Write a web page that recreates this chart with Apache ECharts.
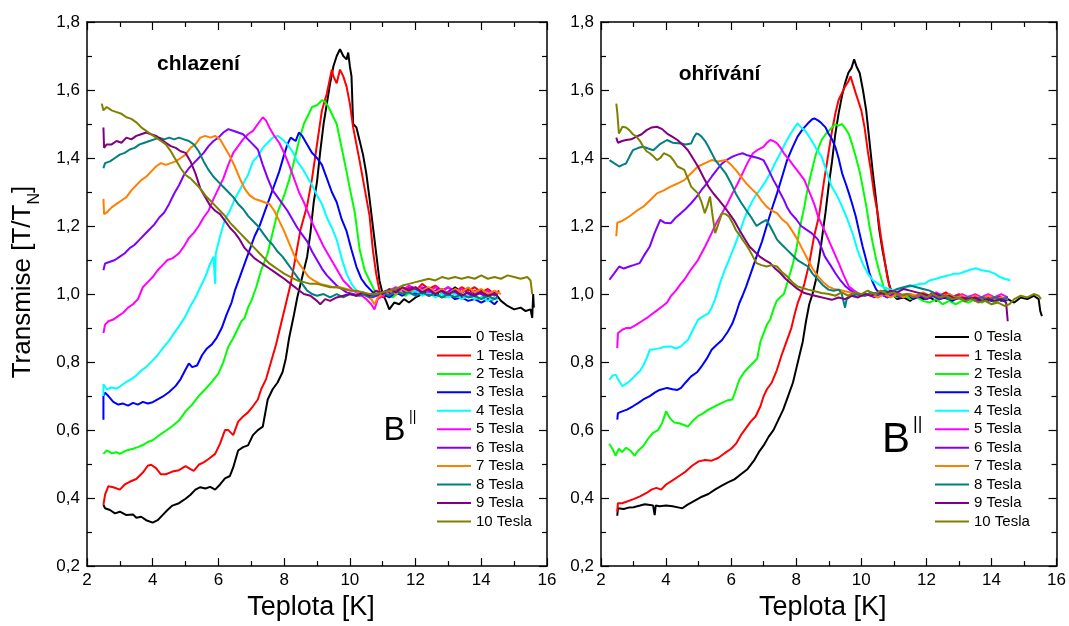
<!DOCTYPE html>
<html>
<head>
<meta charset="utf-8">
<script src="https://cdn.jsdelivr.net/npm/echarts@6/dist/echarts.min.js"></script>
<style>
html,body{margin:0;padding:0;background:#fff;}
#chart{width:1069px;height:626px;}
</style>
</head>
<body>
<div id="chart"></div>
<script>
// ---------- DATA ----------
const seriesNames = ['0 Tesla','1 Tesla','2 Tesla','3 Tesla','4 Tesla','5 Tesla','6 Tesla','7 Tesla','8 Tesla','9 Tesla','10 Tesla'];
const panelTitles = ['chlazení','ohřívání'];
const xTicks = [2,4,6,8,10,12,14,16];
const yTicks = [0.2,0.4,0.6,0.8,1.0,1.2,1.4,1.6,1.8];

// Cooling (chlazení), [T, T/TN]
const cool0 = [[2.5,0.38],[2.55,0.37],[2.7,0.365],[2.85,0.355],[3.0,0.36],[3.2,0.35],[3.4,0.352],[3.5,0.342],[3.65,0.345],[3.8,0.335],[4.0,0.328],[4.15,0.335],[4.3,0.35],[4.45,0.365],[4.6,0.378],[4.8,0.385],[5.0,0.398],[5.15,0.41],[5.3,0.425],[5.45,0.432],[5.6,0.428],[5.75,0.433],[5.9,0.425],[6.05,0.44],[6.2,0.458],[6.35,0.465],[6.45,0.49],[6.6,0.54],[6.75,0.55],[6.9,0.555],[7.05,0.585],[7.2,0.6],[7.35,0.61],[7.5,0.69],[7.65,0.72],[7.8,0.74],[7.95,0.77],[8.05,0.81],[8.15,0.87],[8.3,0.94],[8.4,0.99],[8.5,1.03],[8.6,1.07],[8.7,1.11],[8.8,1.18],[8.9,1.27],[9.0,1.33],[9.1,1.42],[9.2,1.5],[9.3,1.56],[9.4,1.62],[9.5,1.67],[9.6,1.7],[9.7,1.72],[9.8,1.7],[9.9,1.69],[9.95,1.71],[10.0,1.67],[10.05,1.64],[10.1,1.5],[10.2,1.49],[10.3,1.45],[10.4,1.41],[10.5,1.355],[10.6,1.28],[10.7,1.2],[10.8,1.12],[10.9,1.04],[11.0,1.0],[11.1,0.98],[11.2,0.955],[11.35,0.975],[11.5,0.97],[11.65,0.985],[11.8,0.975],[12.0,0.99],[12.2,1.0],[12.4,1.01],[12.6,0.995],[12.8,1.015],[13.0,1.0],[13.2,1.02],[13.4,1.005],[13.6,1.015],[13.8,1.0],[14.0,1.01],[14.2,0.995],[14.4,1.005],[14.6,0.98],[14.8,0.965],[15.0,0.955],[15.2,0.96],[15.35,0.95],[15.5,0.955],[15.55,0.93],[15.58,1.0],[15.6,0.96]];
const cool1 = [[2.5,0.38],[2.55,0.41],[2.65,0.435],[2.8,0.432],[3.0,0.425],[3.15,0.44],[3.3,0.448],[3.5,0.456],[3.7,0.475],[3.85,0.495],[3.95,0.498],[4.1,0.488],[4.25,0.47],[4.4,0.47],[4.6,0.478],[4.8,0.482],[5.0,0.494],[5.15,0.485],[5.25,0.48],[5.4,0.498],[5.55,0.505],[5.7,0.515],[5.9,0.53],[6.05,0.56],[6.2,0.6],[6.3,0.6],[6.45,0.585],[6.6,0.625],[6.75,0.64],[6.9,0.652],[7.05,0.67],[7.2,0.69],[7.3,0.72],[7.45,0.75],[7.6,0.8],[7.75,0.85],[7.85,0.89],[7.95,0.93],[8.05,0.97],[8.2,1.03],[8.35,1.11],[8.5,1.19],[8.7,1.26],[8.85,1.34],[9.0,1.44],[9.15,1.54],[9.3,1.59],[9.45,1.66],[9.5,1.64],[9.6,1.62],[9.7,1.66],[9.8,1.64],[9.9,1.61],[10.0,1.56],[10.1,1.49],[10.2,1.44],[10.3,1.39],[10.45,1.31],[10.6,1.23],[10.7,1.13],[10.8,1.06],[10.9,1.01],[11.0,0.99],[11.2,1.0],[11.4,1.015],[11.6,1.0],[11.8,1.02],[12.0,1.01],[12.2,1.03],[12.4,1.015],[12.6,1.025],[12.8,1.01],[13.0,1.02],[13.2,1.005],[13.4,1.02],[13.6,1.01],[13.8,1.02],[14.0,1.005],[14.2,1.015],[14.4,1.0],[14.55,1.01]];
const cool2 = [[2.5,0.53],[2.6,0.54],[2.75,0.532],[2.9,0.535],[3.0,0.53],[3.2,0.54],[3.4,0.545],[3.55,0.55],[3.7,0.556],[3.85,0.565],[4.0,0.57],[4.2,0.585],[4.4,0.598],[4.6,0.612],[4.8,0.628],[5.0,0.655],[5.2,0.675],[5.4,0.7],[5.6,0.72],[5.8,0.742],[6.0,0.766],[6.15,0.8],[6.3,0.845],[6.45,0.87],[6.6,0.9],[6.7,0.92],[6.8,0.93],[6.9,0.96],[7.0,0.98],[7.15,1.02],[7.3,1.07],[7.5,1.12],[7.65,1.18],[7.8,1.24],[8.0,1.29],[8.15,1.335],[8.3,1.39],[8.45,1.45],[8.6,1.5],[8.7,1.52],[8.85,1.55],[9.0,1.555],[9.15,1.57],[9.25,1.565],[9.35,1.55],[9.5,1.52],[9.6,1.5],[9.75,1.43],[9.9,1.36],[10.0,1.31],[10.15,1.24],[10.3,1.13],[10.45,1.07],[10.6,1.04],[10.75,1.01],[10.9,0.995],[11.1,1.0],[11.3,0.99],[11.5,1.005],[11.7,0.995],[11.9,1.01],[12.1,1.0],[12.3,1.015],[12.5,1.0],[12.7,1.01],[12.9,0.99],[13.1,1.005],[13.3,0.995],[13.5,0.99],[13.7,1.0],[13.9,0.985],[14.1,0.995],[14.3,0.98],[14.5,0.99]];
const cool3 = [[2.5,0.63],[2.5,0.7],[2.55,0.71],[2.65,0.7],[2.8,0.683],[2.95,0.675],[3.1,0.678],[3.25,0.672],[3.4,0.68],[3.55,0.675],[3.7,0.683],[3.85,0.678],[4.0,0.682],[4.15,0.69],[4.3,0.698],[4.5,0.712],[4.7,0.73],[4.85,0.75],[5.0,0.778],[5.1,0.796],[5.2,0.785],[5.35,0.79],[5.5,0.82],[5.65,0.84],[5.8,0.852],[5.95,0.872],[6.1,0.9],[6.25,0.94],[6.4,0.975],[6.5,1.01],[6.65,1.05],[6.8,1.09],[6.95,1.13],[7.1,1.17],[7.25,1.2],[7.4,1.24],[7.55,1.28],[7.7,1.32],[7.85,1.36],[8.0,1.41],[8.1,1.44],[8.2,1.46],[8.35,1.45],[8.45,1.475],[8.55,1.465],[8.7,1.44],[8.85,1.415],[9.0,1.4],[9.15,1.38],[9.3,1.34],[9.45,1.3],[9.6,1.27],[9.75,1.22],[9.9,1.185],[10.05,1.13],[10.2,1.08],[10.35,1.045],[10.5,1.025],[10.65,1.01],[10.8,0.995],[11.0,1.0],[11.2,0.99],[11.4,1.005],[11.6,0.995],[11.8,1.01],[12.0,1.0],[12.2,1.01],[12.4,0.995],[12.6,1.005],[12.8,0.99],[13.0,1.0],[13.2,0.985],[13.4,0.99],[13.6,0.98],[13.8,0.985],[14.0,0.975],[14.2,0.985],[14.4,0.97],[14.5,0.98]];
const cool4 = [[2.5,0.7],[2.5,0.735],[2.6,0.72],[2.75,0.725],[2.9,0.722],[3.0,0.728],[3.2,0.742],[3.35,0.75],[3.5,0.76],[3.65,0.775],[3.8,0.785],[4.0,0.805],[4.15,0.82],[4.3,0.84],[4.5,0.863],[4.65,0.885],[4.8,0.905],[5.0,0.935],[5.15,0.965],[5.3,0.99],[5.45,1.02],[5.6,1.05],[5.75,1.09],[5.85,1.11],[5.9,1.03],[5.92,1.12],[6.05,1.17],[6.2,1.22],[6.35,1.245],[6.5,1.28],[6.7,1.315],[6.9,1.35],[7.05,1.39],[7.2,1.405],[7.35,1.43],[7.5,1.445],[7.65,1.46],[7.8,1.465],[7.95,1.455],[8.1,1.44],[8.25,1.42],[8.4,1.39],[8.55,1.37],[8.7,1.345],[8.85,1.32],[9.0,1.29],[9.15,1.265],[9.3,1.225],[9.45,1.195],[9.6,1.16],[9.75,1.105],[9.9,1.06],[10.05,1.03],[10.2,1.01],[10.4,1.0],[10.6,0.99],[10.8,1.005],[11.0,0.995],[11.2,1.01],[11.4,1.0],[11.6,1.015],[11.8,1.0],[12.0,1.01],[12.2,0.995],[12.4,1.005],[12.6,0.99],[12.8,1.0],[13.0,0.99],[13.2,1.0],[13.4,0.985],[13.6,0.995],[13.8,0.985],[14.0,0.99],[14.2,0.98],[14.4,0.99],[14.5,0.985]];
const cool5 = [[2.5,0.885],[2.55,0.91],[2.65,0.92],[2.8,0.925],[2.95,0.935],[3.1,0.945],[3.25,0.96],[3.4,0.97],[3.55,0.985],[3.7,1.02],[3.85,1.035],[4.0,1.05],[4.15,1.07],[4.3,1.085],[4.45,1.1],[4.6,1.105],[4.8,1.12],[4.95,1.14],[5.1,1.165],[5.25,1.18],[5.4,1.2],[5.55,1.225],[5.7,1.245],[5.85,1.28],[6.0,1.31],[6.15,1.34],[6.3,1.38],[6.45,1.415],[6.6,1.435],[6.75,1.455],[6.9,1.47],[7.05,1.48],[7.2,1.5],[7.35,1.52],[7.45,1.51],[7.55,1.49],[7.7,1.465],[7.85,1.445],[8.0,1.415],[8.15,1.38],[8.3,1.34],[8.45,1.3],[8.6,1.27],[8.75,1.235],[8.9,1.2],[9.05,1.17],[9.2,1.14],[9.35,1.115],[9.5,1.09],[9.65,1.065],[9.8,1.04],[9.95,1.025],[10.1,1.01],[10.3,1.0],[10.5,0.985],[10.65,0.97],[10.75,0.955],[10.85,0.985],[11.0,0.995],[11.2,1.01],[11.4,1.02],[11.6,1.01],[11.8,1.025],[12.0,1.015],[12.2,1.02],[12.4,1.005],[12.6,1.02],[12.8,1.01],[13.0,1.02],[13.2,1.005],[13.4,1.015],[13.6,1.0],[13.8,1.01],[14.0,1.0],[14.2,1.01],[14.4,0.995],[14.5,1.005]];
const cool6 = [[2.5,1.07],[2.55,1.09],[2.7,1.095],[2.85,1.1],[3.0,1.11],[3.15,1.12],[3.3,1.135],[3.45,1.145],[3.6,1.16],[3.75,1.175],[3.9,1.19],[4.05,1.205],[4.2,1.225],[4.35,1.24],[4.5,1.265],[4.65,1.295],[4.8,1.32],[4.95,1.35],[5.1,1.37],[5.25,1.385],[5.4,1.4],[5.55,1.415],[5.7,1.435],[5.85,1.45],[6.0,1.46],[6.15,1.475],[6.3,1.485],[6.45,1.48],[6.6,1.475],[6.75,1.47],[6.9,1.455],[7.05,1.44],[7.2,1.425],[7.35,1.38],[7.5,1.34],[7.65,1.305],[7.8,1.285],[7.95,1.265],[8.1,1.245],[8.25,1.22],[8.4,1.195],[8.55,1.175],[8.7,1.155],[8.85,1.125],[9.0,1.1],[9.15,1.075],[9.3,1.055],[9.45,1.04],[9.6,1.025],[9.75,1.015],[9.9,1.005],[10.1,1.0],[10.3,0.995],[10.5,1.0],[10.7,0.99],[10.9,1.0],[11.1,1.01],[11.3,1.0],[11.5,1.015],[11.7,1.005],[11.9,1.02],[12.1,1.01],[12.3,1.02],[12.5,1.005],[12.7,1.015],[12.9,1.0],[13.1,1.015],[13.3,1.0],[13.5,1.01],[13.7,0.995],[13.9,1.005],[14.1,0.995],[14.3,1.005],[14.5,0.995]];
const cool7 = [[2.5,1.28],[2.52,1.235],[2.6,1.24],[2.75,1.255],[2.9,1.265],[3.05,1.275],[3.2,1.285],[3.35,1.305],[3.5,1.32],[3.65,1.335],[3.8,1.345],[3.95,1.36],[4.1,1.375],[4.25,1.385],[4.4,1.38],[4.55,1.385],[4.7,1.39],[4.85,1.4],[5.0,1.41],[5.15,1.43],[5.3,1.44],[5.45,1.46],[5.6,1.465],[5.75,1.46],[5.9,1.465],[6.05,1.455],[6.2,1.43],[6.35,1.405],[6.5,1.375],[6.65,1.34],[6.8,1.31],[6.95,1.29],[7.1,1.28],[7.25,1.275],[7.4,1.27],[7.55,1.265],[7.7,1.245],[7.85,1.215],[8.0,1.185],[8.15,1.15],[8.3,1.115],[8.45,1.09],[8.6,1.07],[8.75,1.05],[8.9,1.04],[9.1,1.03],[9.3,1.025],[9.5,1.02],[9.7,1.02],[9.9,1.015],[10.1,1.01],[10.3,1.005],[10.5,0.995],[10.65,0.985],[10.75,0.97],[10.85,0.99],[11.0,1.0],[11.2,1.01],[11.4,1.0],[11.6,1.015],[11.8,1.005],[12.0,1.02],[12.2,1.01],[12.4,1.02],[12.6,1.005],[12.8,1.015],[13.0,1.0],[13.2,1.015],[13.4,1.005],[13.6,1.02],[13.8,1.005],[14.0,1.015],[14.2,1.0],[14.4,1.01],[14.6,1.0]];
const cool8 = [[2.5,1.37],[2.55,1.385],[2.7,1.39],[2.85,1.4],[3.0,1.41],[3.15,1.415],[3.3,1.425],[3.45,1.43],[3.6,1.44],[3.75,1.445],[3.9,1.45],[4.05,1.455],[4.2,1.46],[4.35,1.455],[4.5,1.46],[4.65,1.455],[4.8,1.46],[4.95,1.455],[5.1,1.45],[5.25,1.44],[5.4,1.42],[5.55,1.39],[5.7,1.365],[5.85,1.345],[6.0,1.33],[6.15,1.315],[6.3,1.3],[6.45,1.285],[6.6,1.265],[6.75,1.25],[6.9,1.23],[7.05,1.215],[7.2,1.2],[7.35,1.18],[7.5,1.16],[7.65,1.145],[7.8,1.125],[7.95,1.11],[8.1,1.09],[8.25,1.07],[8.4,1.05],[8.55,1.03],[8.7,1.01],[8.85,1.0],[9.0,0.995],[9.2,1.0],[9.4,0.99],[9.6,1.0],[9.8,0.99],[10.0,1.0],[10.2,0.995],[10.4,1.0],[10.6,0.99],[10.8,1.0],[11.0,1.005],[11.2,0.995],[11.4,1.01],[11.6,1.0],[11.8,1.005],[12.0,0.995],[12.2,1.005],[12.4,0.995],[12.6,1.0],[12.8,0.99],[13.0,1.0],[13.2,0.99],[13.4,1.0],[13.6,0.99],[13.8,0.995],[14.0,0.985],[14.2,0.995],[14.4,0.985],[14.5,0.99]];
const cool9 = [[2.5,1.49],[2.52,1.43],[2.6,1.44],[2.75,1.44],[2.9,1.45],[3.05,1.445],[3.2,1.46],[3.35,1.455],[3.5,1.465],[3.65,1.47],[3.8,1.475],[3.95,1.47],[4.1,1.465],[4.25,1.455],[4.4,1.445],[4.55,1.435],[4.7,1.43],[4.85,1.42],[5.0,1.415],[5.15,1.39],[5.3,1.355],[5.45,1.31],[5.6,1.285],[5.75,1.26],[5.9,1.245],[6.05,1.235],[6.2,1.215],[6.35,1.195],[6.5,1.18],[6.65,1.16],[6.8,1.135],[6.95,1.12],[7.1,1.105],[7.25,1.095],[7.4,1.085],[7.55,1.075],[7.7,1.065],[7.85,1.055],[8.0,1.045],[8.2,1.03],[8.4,1.015],[8.6,1.0],[8.8,0.995],[9.0,0.98],[9.1,0.97],[9.25,0.985],[9.4,0.98],[9.6,0.99],[9.8,0.995],[10.0,1.0],[10.2,0.995],[10.4,1.005],[10.6,0.995],[10.8,1.01],[11.0,1.0],[11.2,1.015],[11.4,1.005],[11.6,1.02],[11.8,1.01],[12.0,1.02],[12.2,1.005],[12.4,1.015],[12.6,1.0],[12.8,1.01],[13.0,1.0],[13.2,1.01],[13.4,0.995],[13.6,1.005],[13.8,0.995],[14.0,1.005],[14.2,0.995],[14.4,1.0],[14.5,0.995]];
const cool10 = [[2.45,1.56],[2.5,1.54],[2.6,1.55],[2.75,1.54],[2.9,1.535],[3.05,1.53],[3.2,1.52],[3.35,1.515],[3.5,1.505],[3.65,1.49],[3.8,1.48],[3.95,1.47],[4.1,1.46],[4.25,1.45],[4.4,1.44],[4.55,1.42],[4.7,1.395],[4.85,1.37],[5.0,1.35],[5.15,1.34],[5.3,1.325],[5.45,1.31],[5.6,1.29],[5.75,1.275],[5.9,1.26],[6.05,1.245],[6.2,1.23],[6.35,1.21],[6.5,1.195],[6.65,1.18],[6.8,1.165],[6.95,1.15],[7.1,1.135],[7.25,1.12],[7.4,1.105],[7.55,1.09],[7.7,1.08],[7.85,1.07],[8.0,1.06],[8.2,1.05],[8.4,1.04],[8.6,1.035],[8.8,1.03],[9.0,1.03],[9.2,1.025],[9.4,1.02],[9.6,1.02],[9.8,1.015],[10.0,1.01],[10.2,1.01],[10.4,1.005],[10.6,1.0],[10.8,1.0],[11.0,1.005],[11.2,1.01],[11.4,1.015],[11.6,1.025],[11.8,1.03],[12.0,1.035],[12.2,1.04],[12.4,1.045],[12.6,1.04],[12.8,1.05],[13.0,1.045],[13.2,1.05],[13.4,1.045],[13.6,1.05],[13.8,1.045],[14.0,1.055],[14.2,1.045],[14.4,1.05],[14.6,1.045],[14.8,1.055],[15.0,1.05],[15.2,1.045],[15.4,1.05],[15.5,1.04],[15.55,1.0]];

// Heating (ohřívání), [T, T/TN]
const heat0 = [[2.5,0.348],[2.52,0.37],[2.7,0.368],[2.85,0.372],[3.0,0.373],[3.2,0.378],[3.35,0.382],[3.5,0.38],[3.6,0.378],[3.65,0.35],[3.68,0.378],[3.8,0.376],[4.0,0.378],[4.2,0.376],[4.4,0.372],[4.5,0.37],[4.65,0.38],[4.8,0.388],[4.95,0.396],[5.1,0.404],[5.3,0.412],[5.5,0.425],[5.7,0.436],[5.9,0.446],[6.1,0.455],[6.3,0.47],[6.5,0.485],[6.7,0.51],[6.85,0.535],[7.0,0.555],[7.15,0.58],[7.3,0.6],[7.45,0.63],[7.6,0.66],[7.75,0.7],[7.9,0.74],[8.0,0.78],[8.1,0.82],[8.2,0.86],[8.3,0.92],[8.4,0.97],[8.5,1.0],[8.6,1.04],[8.7,1.1],[8.8,1.17],[8.9,1.24],[9.0,1.32],[9.1,1.39],[9.2,1.47],[9.3,1.53],[9.4,1.58],[9.5,1.62],[9.6,1.65],[9.7,1.665],[9.78,1.69],[9.85,1.67],[9.95,1.65],[10.05,1.6],[10.15,1.54],[10.25,1.45],[10.35,1.36],[10.45,1.28],[10.55,1.19],[10.65,1.13],[10.75,1.08],[10.85,1.03],[10.95,1.0],[11.1,0.985],[11.3,0.99],[11.5,0.98],[11.7,0.995],[11.9,0.985],[12.1,0.99],[12.3,0.98],[12.5,0.99],[12.7,0.985],[12.9,0.995],[13.1,0.985],[13.3,0.99],[13.5,0.98],[13.7,0.99],[13.9,0.98],[14.1,0.99],[14.3,0.98],[14.5,0.985],[14.7,0.975],[14.9,0.99],[15.1,0.985],[15.3,0.995],[15.45,0.985],[15.5,0.95],[15.55,0.935]];
const heat1 = [[2.5,0.36],[2.52,0.385],[2.65,0.385],[2.8,0.39],[3.0,0.397],[3.2,0.405],[3.4,0.415],[3.55,0.425],[3.7,0.43],[3.85,0.425],[4.0,0.44],[4.2,0.452],[4.4,0.465],[4.6,0.478],[4.8,0.495],[5.0,0.508],[5.2,0.512],[5.4,0.51],[5.6,0.518],[5.8,0.532],[6.0,0.545],[6.15,0.56],[6.3,0.585],[6.45,0.605],[6.6,0.625],[6.75,0.64],[6.9,0.67],[7.0,0.7],[7.1,0.72],[7.25,0.74],[7.4,0.775],[7.55,0.82],[7.7,0.86],[7.85,0.9],[7.95,0.94],[8.05,0.975],[8.15,1.0],[8.25,1.03],[8.4,1.09],[8.55,1.17],[8.7,1.23],[8.85,1.33],[9.0,1.42],[9.1,1.48],[9.2,1.53],[9.3,1.57],[9.4,1.59],[9.5,1.61],[9.6,1.625],[9.67,1.64],[9.75,1.615],[9.83,1.59],[9.9,1.57],[10.0,1.54],[10.1,1.49],[10.2,1.42],[10.3,1.36],[10.4,1.29],[10.5,1.24],[10.6,1.17],[10.7,1.11],[10.8,1.05],[10.9,1.01],[11.0,1.0],[11.2,0.99],[11.4,1.0],[11.6,0.99],[11.8,1.0],[12.0,0.99],[12.2,1.005],[12.4,0.995],[12.6,1.005],[12.8,0.99],[13.0,1.0],[13.2,0.99],[13.4,0.995],[13.6,0.985],[13.8,0.995],[14.0,0.985],[14.2,0.995],[14.4,0.985],[14.5,0.99]];
const heat2 = [[2.25,0.56],[2.35,0.545],[2.45,0.525],[2.55,0.545],[2.65,0.535],[2.77,0.548],[2.9,0.54],[3.03,0.525],[3.15,0.54],[3.3,0.553],[3.45,0.575],[3.6,0.592],[3.75,0.6],[3.88,0.621],[4.0,0.655],[4.05,0.66],[4.12,0.635],[4.25,0.622],[4.4,0.62],[4.55,0.615],[4.67,0.61],[4.8,0.625],[4.98,0.641],[5.15,0.65],[5.3,0.66],[5.5,0.67],[5.72,0.68],[5.9,0.688],[6.04,0.69],[6.15,0.72],[6.25,0.748],[6.4,0.77],[6.56,0.787],[6.7,0.8],[6.8,0.81],[6.9,0.86],[7.0,0.885],[7.1,0.91],[7.2,0.925],[7.3,0.955],[7.4,0.98],[7.5,0.99],[7.62,1.0],[7.75,1.04],[7.9,1.09],[8.0,1.13],[8.1,1.19],[8.25,1.257],[8.35,1.31],[8.46,1.355],[8.6,1.41],[8.78,1.453],[8.9,1.47],[9.0,1.48],[9.1,1.49],[9.2,1.5],[9.3,1.495],[9.41,1.5],[9.52,1.485],[9.62,1.47],[9.72,1.44],[9.83,1.404],[9.95,1.36],[10.04,1.316],[10.15,1.26],[10.25,1.2],[10.35,1.15],[10.46,1.1],[10.57,1.06],[10.68,1.022],[10.8,1.005],[10.9,1.0],[11.1,0.99],[11.3,1.0],[11.5,0.985],[11.7,0.99],[11.9,0.98],[12.1,0.975],[12.3,0.985],[12.5,0.97],[12.7,0.98],[12.9,0.97],[13.1,0.98],[13.3,0.975],[13.5,0.985],[13.7,0.975],[13.9,0.985],[14.1,0.975],[14.3,0.985],[14.5,0.98]];
const heat3 = [[2.5,0.631],[2.52,0.65],[2.65,0.655],[2.8,0.66],[2.98,0.67],[3.15,0.68],[3.3,0.69],[3.5,0.7],[3.65,0.71],[3.8,0.718],[4.03,0.724],[4.2,0.72],[4.35,0.718],[4.46,0.724],[4.6,0.74],[4.77,0.758],[4.95,0.77],[5.09,0.787],[5.25,0.81],[5.4,0.836],[5.55,0.85],[5.72,0.865],[5.9,0.89],[6.04,0.914],[6.14,0.94],[6.25,0.973],[6.35,0.995],[6.46,1.022],[6.6,1.06],[6.78,1.11],[6.95,1.155],[7.09,1.2],[7.25,1.25],[7.41,1.296],[7.55,1.34],[7.72,1.394],[7.88,1.43],[8.04,1.463],[8.2,1.485],[8.36,1.502],[8.5,1.515],[8.57,1.516],[8.68,1.51],[8.78,1.502],[8.9,1.49],[8.99,1.472],[9.1,1.455],[9.2,1.433],[9.3,1.4],[9.41,1.355],[9.52,1.325],[9.62,1.296],[9.72,1.265],[9.83,1.228],[9.93,1.185],[10.04,1.14],[10.15,1.1],[10.25,1.062],[10.35,1.035],[10.46,1.013],[10.6,1.0],[10.8,0.99],[11.0,1.0],[11.2,0.99],[11.4,1.0],[11.6,0.985],[11.8,0.995],[12.0,0.985],[12.2,0.995],[12.4,0.985],[12.6,0.99],[12.8,0.98],[13.0,0.99],[13.2,0.98],[13.4,0.99],[13.6,0.98],[13.8,0.99],[14.0,0.98],[14.2,0.985],[14.4,0.98],[14.5,0.985]];
const heat4 = [[2.26,0.748],[2.35,0.76],[2.45,0.763],[2.55,0.745],[2.66,0.729],[2.75,0.735],[2.87,0.743],[3.0,0.755],[3.1,0.765],[3.19,0.773],[3.3,0.79],[3.4,0.81],[3.5,0.836],[3.65,0.838],[3.82,0.841],[3.95,0.845],[4.14,0.846],[4.3,0.84],[4.46,0.846],[4.55,0.855],[4.67,0.865],[4.8,0.89],[4.98,0.924],[5.15,0.935],[5.3,0.943],[5.4,0.96],[5.51,0.985],[5.65,1.03],[5.8,1.07],[5.93,1.1],[6.1,1.14],[6.25,1.179],[6.4,1.22],[6.56,1.257],[6.72,1.285],[6.88,1.306],[7.05,1.33],[7.2,1.355],[7.35,1.385],[7.51,1.414],[7.67,1.445],[7.83,1.472],[7.95,1.49],[8.04,1.502],[8.15,1.49],[8.25,1.482],[8.35,1.47],[8.46,1.453],[8.6,1.43],[8.78,1.404],[8.9,1.37],[9.0,1.34],[9.09,1.316],[9.25,1.29],[9.41,1.257],[9.57,1.22],[9.73,1.179],[9.88,1.13],[10.04,1.09],[10.2,1.06],[10.36,1.04],[10.52,1.03],[10.68,1.02],[10.85,1.015],[11.0,1.01],[11.2,1.015],[11.41,1.02],[11.6,1.025],[11.8,1.03],[11.94,1.03],[12.1,1.04],[12.3,1.045],[12.47,1.05],[12.7,1.055],[12.85,1.06],[13.0,1.06],[13.15,1.065],[13.3,1.07],[13.52,1.076],[13.7,1.07],[13.94,1.066],[14.1,1.06],[14.26,1.05],[14.4,1.045],[14.58,1.04]];
const heat5 = [[2.5,0.841],[2.52,0.885],[2.65,0.895],[2.77,0.9],[2.9,0.9],[3.09,0.91],[3.25,0.92],[3.4,0.929],[3.55,0.94],[3.72,0.952],[3.9,0.965],[4.03,0.975],[4.14,0.993],[4.3,1.01],[4.45,1.03],[4.56,1.042],[4.75,1.07],[4.98,1.1],[5.2,1.14],[5.4,1.179],[5.55,1.21],[5.72,1.238],[5.88,1.265],[6.04,1.296],[6.2,1.325],[6.35,1.355],[6.5,1.385],[6.67,1.414],[6.83,1.425],[6.99,1.433],[7.1,1.445],[7.2,1.453],[7.3,1.45],[7.41,1.443],[7.52,1.43],[7.62,1.414],[7.78,1.395],[7.94,1.375],[8.1,1.355],[8.25,1.335],[8.36,1.31],[8.46,1.287],[8.57,1.26],[8.67,1.228],[8.83,1.195],[8.99,1.16],[9.15,1.125],[9.31,1.09],[9.46,1.055],[9.62,1.022],[9.78,1.01],[9.94,1.0],[10.1,0.995],[10.3,1.0],[10.5,0.99],[10.7,1.0],[10.9,0.995],[11.1,1.005],[11.3,0.995],[11.5,1.0],[11.7,0.99],[11.9,1.0],[12.1,0.995],[12.3,1.005],[12.5,0.995],[12.7,1.0],[12.9,0.99],[13.1,1.0],[13.3,0.99],[13.5,1.0],[13.7,0.99],[13.9,1.0],[14.1,0.99],[14.3,1.0],[14.5,0.99]];
const heat6 = [[2.26,1.042],[2.4,1.06],[2.56,1.081],[2.7,1.075],[2.87,1.081],[3.0,1.085],[3.19,1.091],[3.3,1.11],[3.5,1.14],[3.65,1.18],[3.82,1.218],[3.95,1.21],[4.14,1.208],[4.3,1.225],[4.46,1.238],[4.6,1.25],[4.77,1.267],[4.93,1.285],[5.09,1.306],[5.25,1.325],[5.4,1.345],[5.56,1.365],[5.72,1.384],[5.88,1.395],[6.04,1.404],[6.2,1.41],[6.35,1.414],[6.5,1.408],[6.67,1.404],[6.83,1.4],[6.99,1.394],[7.1,1.375],[7.2,1.355],[7.3,1.335],[7.41,1.316],[7.52,1.295],[7.62,1.277],[7.72,1.255],[7.83,1.238],[8.0,1.22],[8.15,1.2],[8.3,1.19],[8.46,1.18],[8.57,1.17],[8.67,1.16],[8.78,1.135],[8.88,1.11],[9.05,1.085],[9.2,1.062],[9.36,1.04],[9.52,1.022],[9.68,1.01],[9.83,1.0],[10.0,0.995],[10.2,1.0],[10.4,0.99],[10.6,1.0],[10.8,0.99],[11.0,1.0],[11.2,0.99],[11.4,1.0],[11.6,0.99],[11.8,1.0],[12.0,0.985],[12.2,0.995],[12.4,0.985],[12.6,0.995],[12.8,0.985],[13.0,0.995],[13.2,0.985],[13.4,0.99],[13.6,0.98],[13.8,0.99],[14.0,0.98],[14.2,0.99],[14.4,0.985],[14.5,0.99]];
const heat7 = [[2.47,1.17],[2.5,1.21],[2.65,1.215],[2.87,1.228],[3.1,1.245],[3.3,1.257],[3.5,1.275],[3.72,1.296],[3.93,1.305],[4.14,1.316],[4.35,1.325],[4.56,1.335],[4.77,1.355],[4.98,1.375],[5.2,1.385],[5.4,1.394],[5.6,1.39],[5.83,1.394],[6.0,1.38],[6.14,1.365],[6.3,1.345],[6.46,1.326],[6.62,1.31],[6.78,1.296],[6.93,1.275],[7.09,1.257],[7.25,1.245],[7.41,1.238],[7.56,1.22],[7.72,1.208],[7.88,1.185],[8.04,1.16],[8.2,1.13],[8.36,1.1],[8.5,1.075],[8.67,1.052],[8.83,1.035],[8.99,1.022],[9.15,1.015],[9.31,1.013],[9.5,1.008],[9.73,1.003],[9.9,1.0],[10.1,0.995],[10.3,1.0],[10.5,0.99],[10.7,1.0],[10.9,0.99],[11.1,1.0],[11.3,0.99],[11.5,1.0],[11.7,0.995],[11.9,1.005],[12.1,0.995],[12.3,1.0],[12.5,0.99],[12.7,1.0],[12.9,0.99],[13.1,0.995],[13.3,0.985],[13.5,0.995],[13.7,0.985],[13.9,0.995],[14.1,0.985],[14.3,0.99],[14.5,0.985]];
const heat8 = [[2.26,1.394],[2.4,1.385],[2.56,1.375],[2.66,1.38],[2.77,1.384],[2.88,1.405],[2.98,1.423],[3.15,1.43],[3.3,1.433],[3.45,1.428],[3.61,1.423],[3.8,1.44],[4.03,1.453],[4.2,1.445],[4.46,1.443],[4.6,1.44],[4.77,1.443],[4.85,1.46],[4.93,1.472],[5.0,1.47],[5.09,1.463],[5.2,1.45],[5.3,1.433],[5.4,1.415],[5.51,1.394],[5.67,1.375],[5.83,1.355],[6.0,1.325],[6.14,1.296],[6.3,1.27],[6.46,1.247],[6.62,1.225],[6.78,1.2],[6.93,1.21],[7.09,1.218],[7.25,1.19],[7.41,1.16],[7.56,1.145],[7.72,1.13],[7.88,1.115],[8.04,1.1],[8.2,1.09],[8.36,1.081],[8.5,1.06],[8.67,1.042],[8.83,1.025],[8.99,1.013],[9.15,1.01],[9.31,1.013],[9.4,1.0],[9.5,0.96],[9.55,0.985],[9.7,0.995],[9.9,1.0],[10.1,0.995],[10.3,1.005],[10.5,1.0],[10.7,1.01],[10.9,1.005],[11.1,1.015],[11.3,1.02],[11.5,1.025],[11.7,1.02],[11.9,1.015],[12.1,1.01],[12.3,1.0],[12.5,0.995],[12.7,0.985],[12.9,0.99],[13.1,0.985],[13.3,0.99],[13.5,0.985],[13.7,0.99],[13.9,0.985],[14.1,0.99],[14.3,0.985],[14.5,0.99]];
const heat9 = [[2.47,1.46],[2.52,1.445],[2.65,1.45],[2.77,1.453],[2.93,1.455],[3.09,1.463],[3.25,1.47],[3.4,1.482],[3.56,1.49],[3.72,1.492],[3.88,1.485],[4.03,1.472],[4.2,1.462],[4.35,1.453],[4.5,1.44],[4.67,1.423],[4.82,1.4],[4.98,1.375],[5.14,1.345],[5.3,1.316],[5.46,1.295],[5.62,1.277],[5.78,1.258],[5.93,1.238],[6.1,1.215],[6.25,1.189],[6.4,1.165],[6.56,1.14],[6.72,1.125],[6.88,1.11],[7.04,1.1],[7.2,1.091],[7.35,1.075],[7.51,1.062],[7.67,1.045],[7.83,1.032],[8.04,1.015],[8.25,1.003],[8.45,0.998],[8.67,0.993],[8.88,0.988],[9.09,0.983],[9.3,0.99],[9.5,0.985],[9.7,0.995],[9.9,0.99],[10.1,1.0],[10.3,0.995],[10.5,1.005],[10.7,1.0],[10.9,1.01],[11.1,1.005],[11.3,1.015],[11.5,1.01],[11.7,1.005],[11.9,1.0],[12.1,0.995],[12.3,1.0],[12.5,0.99],[12.7,0.995],[12.9,0.985],[13.1,0.99],[13.3,0.985],[13.5,0.99],[13.7,0.98],[13.9,0.985],[14.1,0.98],[14.3,0.985],[14.45,0.975],[14.5,0.92]];
const heat10 = [[2.47,1.56],[2.5,1.535],[2.55,1.472],[2.66,1.492],[2.77,1.49],[2.87,1.482],[2.98,1.47],[3.09,1.463],[3.2,1.45],[3.3,1.433],[3.4,1.42],[3.5,1.414],[3.61,1.405],[3.72,1.394],[3.82,1.4],[3.93,1.414],[4.03,1.41],[4.14,1.404],[4.25,1.39],[4.35,1.375],[4.46,1.37],[4.56,1.365],[4.67,1.34],[4.77,1.316],[4.88,1.305],[4.98,1.296],[5.09,1.27],[5.19,1.238],[5.27,1.26],[5.35,1.287],[5.43,1.23],[5.51,1.179],[5.62,1.21],[5.72,1.238],[5.83,1.235],[5.93,1.228],[6.04,1.21],[6.14,1.189],[6.25,1.175],[6.35,1.16],[6.46,1.145],[6.56,1.13],[6.67,1.11],[6.78,1.091],[6.93,1.085],[7.09,1.081],[7.25,1.085],[7.41,1.081],[7.56,1.065],[7.72,1.052],[7.88,1.035],[8.04,1.022],[8.2,1.018],[8.36,1.013],[8.57,1.008],[8.78,1.003],[9.0,1.0],[9.2,0.995],[9.4,1.005],[9.6,0.995],[9.8,1.005],[10.0,1.0],[10.2,1.01],[10.4,1.0],[10.6,1.01],[10.8,1.0],[11.0,1.005],[11.2,0.995],[11.4,1.0],[11.6,0.99],[11.8,1.0],[12.0,0.99],[12.2,1.0],[12.4,0.99],[12.6,0.995],[12.8,0.985],[13.0,0.99],[13.2,0.98],[13.4,0.985],[13.6,0.975],[13.8,0.98],[14.0,0.97],[14.2,0.975],[14.4,0.965],[14.55,0.97],[14.7,0.985],[14.9,0.995],[15.1,0.99],[15.3,1.0],[15.45,0.995],[15.52,0.985]];

const coolData = [cool0,cool1,cool2,cool3,cool4,cool5,cool6,cool7,cool8,cool9,cool10];
const heatData = [heat0,heat1,heat2,heat3,heat4,heat5,heat6,heat7,heat8,heat9,heat10];

// ---------- STYLE ----------
const colors = ['#000000','#ff0000','#00ff00','#0000ff','#00ffff','#ff00ff','#8000ff','#ff8000','#008080','#800080','#808000'];
const FONT = '"Liberation Sans", Arial, sans-serif';
const grids = [
  {left:87, top:22, width:460, height:545},
  {left:601, top:22, width:456, height:545}
];

const chart = echarts.init(document.getElementById('chart'), null, {renderer:'canvas'});

function axisCommon(){
  return {
    axisLine:{show:true, onZero:false, lineStyle:{color:'#000', width:1.5}},
    axisTick:{show:true, inside:true, length:8, lineStyle:{color:'#000', width:1.2}},
    minorTick:{show:true, splitNumber:2, length:5, lineStyle:{color:'#000', width:1.2}},
    splitLine:{show:false}
  };
}
const xAxes = [], yAxes = [];
grids.forEach((g, i) => {
  xAxes.push(Object.assign(axisCommon(), {
    gridIndex:i, type:'value', position:'bottom', min:xTicks[0], max:xTicks[xTicks.length-1], interval:2,
    axisLabel:{show:true, color:'#000', fontSize:17, fontFamily:FONT, margin:6},
    name:'Teplota [K]', nameLocation:'middle', nameGap:26,
    nameTextStyle:{fontSize:27, color:'#000', fontFamily:FONT, padding:[0,12,0,0]}
  }));
  xAxes.push(Object.assign(axisCommon(), {
    gridIndex:i, type:'value', position:'top', min:xTicks[0], max:xTicks[xTicks.length-1], interval:2,
    axisLabel:{show:false}
  }));
  const yl = Object.assign(axisCommon(), {
    gridIndex:i, type:'value', position:'left', min:yTicks[0], max:yTicks[yTicks.length-1], interval:0.2,
    axisLabel:{show:true, color:'#000', fontSize:17, fontFamily:FONT, margin:7,
      formatter: v => v.toFixed(1).replace('.', ',')}
  });
  if (i === 0) {
    yl.name = '{a|Transmise [T/T}{s|N}{a|]}';
    yl.nameLocation = 'middle';
    yl.nameGap = 44;
    yl.nameTextStyle = {
      color:'#000', fontFamily:FONT, padding:[0,0,0,24],
      rich:{
        a:{fontSize:26, fontFamily:FONT, color:'#000', lineHeight:40, verticalAlign:'middle'},
        s:{fontSize:16, fontFamily:FONT, color:'#000', lineHeight:14, verticalAlign:'bottom'}
      }
    };
  }
  yAxes.push(yl);
  yAxes.push(Object.assign(axisCommon(), {
    gridIndex:i, type:'value', position:'right', min:yTicks[0], max:yTicks[yTicks.length-1], interval:0.2,
    axisLabel:{show:false}
  }));
});

const series = [];
[coolData, heatData].forEach((set, p) => {
  set.forEach((d, k) => {
    series.push({
      type:'line', name:seriesNames[k], data:d,
      xAxisIndex:p*2, yAxisIndex:p*2,
      showSymbol:false, symbol:'none', smooth:false, clip:true,
      lineStyle:{color:colors[k], width:2},
      itemStyle:{color:colors[k]},
      emphasis:{disabled:true}, silent:true, z:2
    });
  });
});

function legendAt(left){
  return {
    orient:'vertical', left:left, top:329, padding:0,
    icon:'rect', itemWidth:34, itemHeight:2, itemGap:2.44,
    selectedMode:false,
    textStyle:{fontSize:15, color:'#000', fontFamily:FONT, lineHeight:16},
    data:seriesNames
  };
}

const graphics = [
  {type:'text', x:198.5, y:64, style:{text:panelTitles[0], font:'bold 21px "Liberation Sans", Arial, sans-serif', fill:'#000', align:'center', verticalAlign:'middle'}},
  {type:'text', x:719.5, y:74, style:{text:panelTitles[1], font:'bold 21px "Liberation Sans", Arial, sans-serif', fill:'#000', align:'center', verticalAlign:'middle'}},
  {type:'text', x:383.5, y:431, style:{text:'B', font:'33px "Liberation Sans", Arial, sans-serif', fill:'#000', align:'left', verticalAlign:'middle'}},
  {type:'text', x:409, y:417, style:{text:'||', font:'14px "Liberation Sans", Arial, sans-serif', fill:'#000', align:'left', verticalAlign:'middle'}},
  {type:'text', x:882, y:440, style:{text:'B', font:'42px "Liberation Sans", Arial, sans-serif', fill:'#000', align:'left', verticalAlign:'middle'}},
  {type:'text', x:913, y:424, style:{text:'||', font:'18px "Liberation Sans", Arial, sans-serif', fill:'#000', align:'left', verticalAlign:'middle'}}
];

chart.setOption({
  animation:false,
  backgroundColor:'#ffffff',
  grid:grids,
  xAxis:xAxes,
  yAxis:yAxes,
  legend:[legendAt(437), legendAt(935)],
  series:series,
  graphic:graphics
});
</script>
</body>
</html>
